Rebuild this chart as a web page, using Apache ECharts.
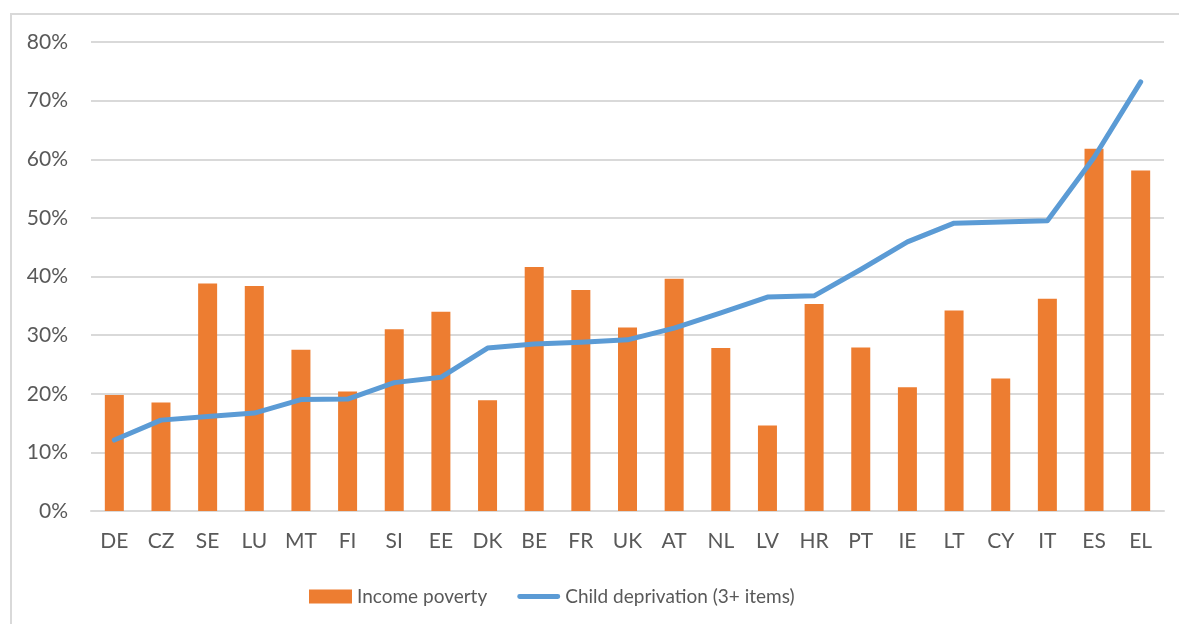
<!DOCTYPE html>
<html>
<head>
<meta charset="utf-8">
<script src="https://cdn.jsdelivr.net/npm/echarts@6/dist/echarts.min.js"></script>
<style>
  html, body { margin: 0; padding: 0; background: #fff; }
  #chart { width: 1179px; height: 624px; }
</style>
</head>
<body>
<div id="chart"></div>
<script>
// Countries, ordered by child deprivation rate
const countries = ['DE', 'CZ', 'SE', 'LU', 'MT', 'FI', 'SI', 'EE', 'DK', 'BE', 'FR', 'UK',
  'AT', 'NL', 'LV', 'HR', 'PT', 'IE', 'LT', 'CY', 'IT', 'ES', 'EL'];

// Income poverty rate (%)
const incomePoverty = [19.8, 18.5, 38.8, 38.4, 27.5, 20.4, 31.0, 34.0, 18.9, 41.6, 37.7, 31.3,
  39.6, 27.8, 14.6, 35.3, 27.9, 21.1, 34.2, 22.6, 36.2, 61.8, 58.1];

// Child deprivation, 3 or more items (%)
const childDeprivation = [12.1, 15.5, 16.1, 16.7, 19.0, 19.1, 21.9, 22.8, 27.8, 28.5, 28.8, 29.2,
  31.2, 33.8, 36.5, 36.7, 41.2, 45.9, 49.1, 49.3, 49.5, 60.3, 73.2];

// Value axis ticks
const yTicks = [0, 10, 20, 30, 40, 50, 60, 70, 80];

const seriesNames = ['Income poverty', 'Child deprivation (3+ items)'];

const textColor = '#595959';
const fontFamily = 'Lato, "Open Sans", sans-serif';

// Thick rounded stroke used as the legend icon of the line series
const lineIcon = 'path://M2.5,0 H42.5 A2.5,2.5 0 0 1 42.5,5 H2.5 A2.5,2.5 0 0 1 2.5,0 Z';

const chart = echarts.init(document.getElementById('chart'), null, { renderer: 'canvas' });

chart.setOption({
  backgroundColor: '#ffffff',
  animation: false,
  graphic: [{
    type: 'rect',
    shape: { x: 11, y: 14, width: 1300, height: 800 },
    style: { fill: 'none', stroke: '#d9d9d9', lineWidth: 2 },
    silent: true
  }],
  grid: { left: 91, right: 15, top: 42, bottom: 113, containLabel: false },
  legend: {
    left: 309,
    top: 587,
    padding: 0,
    itemWidth: 43,
    itemHeight: 14,
    itemGap: 30,
    textStyle: { color: textColor, fontSize: 19, fontFamily: fontFamily },
    data: [
      { name: seriesNames[0], icon: 'rect' },
      { name: seriesNames[1], icon: lineIcon, itemStyle: { color: '#5B9BD5' } }
    ]
  },
  xAxis: {
    type: 'category',
    data: countries,
    axisLine: { show: true, lineStyle: { color: '#d9d9d9', width: 2 } },
    axisTick: { show: false },
    axisLabel: { color: textColor, fontSize: 21, fontFamily: fontFamily, margin: 20, interval: 0 },
    splitLine: { show: false }
  },
  yAxis: {
    type: 'value',
    min: yTicks[0],
    max: yTicks[yTicks.length - 1],
    interval: 10,
    axisLine: { show: false },
    axisTick: { show: false },
    axisLabel: {
      color: textColor, fontSize: 21, fontFamily: fontFamily, margin: 23,
      formatter: v => v + '%'
    },
    splitLine: { lineStyle: { color: '#d9d9d9', width: 2 } }
  },
  series: [
    {
      name: seriesNames[0],
      type: 'bar',
      data: incomePoverty,
      barWidth: 19,
      itemStyle: { color: '#ED7D31' }
    },
    {
      name: seriesNames[1],
      type: 'line',
      data: childDeprivation,
      symbol: 'none',
      smooth: false,
      lineStyle: { color: '#5B9BD5', width: 5, cap: 'round', join: 'round' },
      itemStyle: { color: '#5B9BD5' }
    }
  ]
});
</script>
</body>
</html>
